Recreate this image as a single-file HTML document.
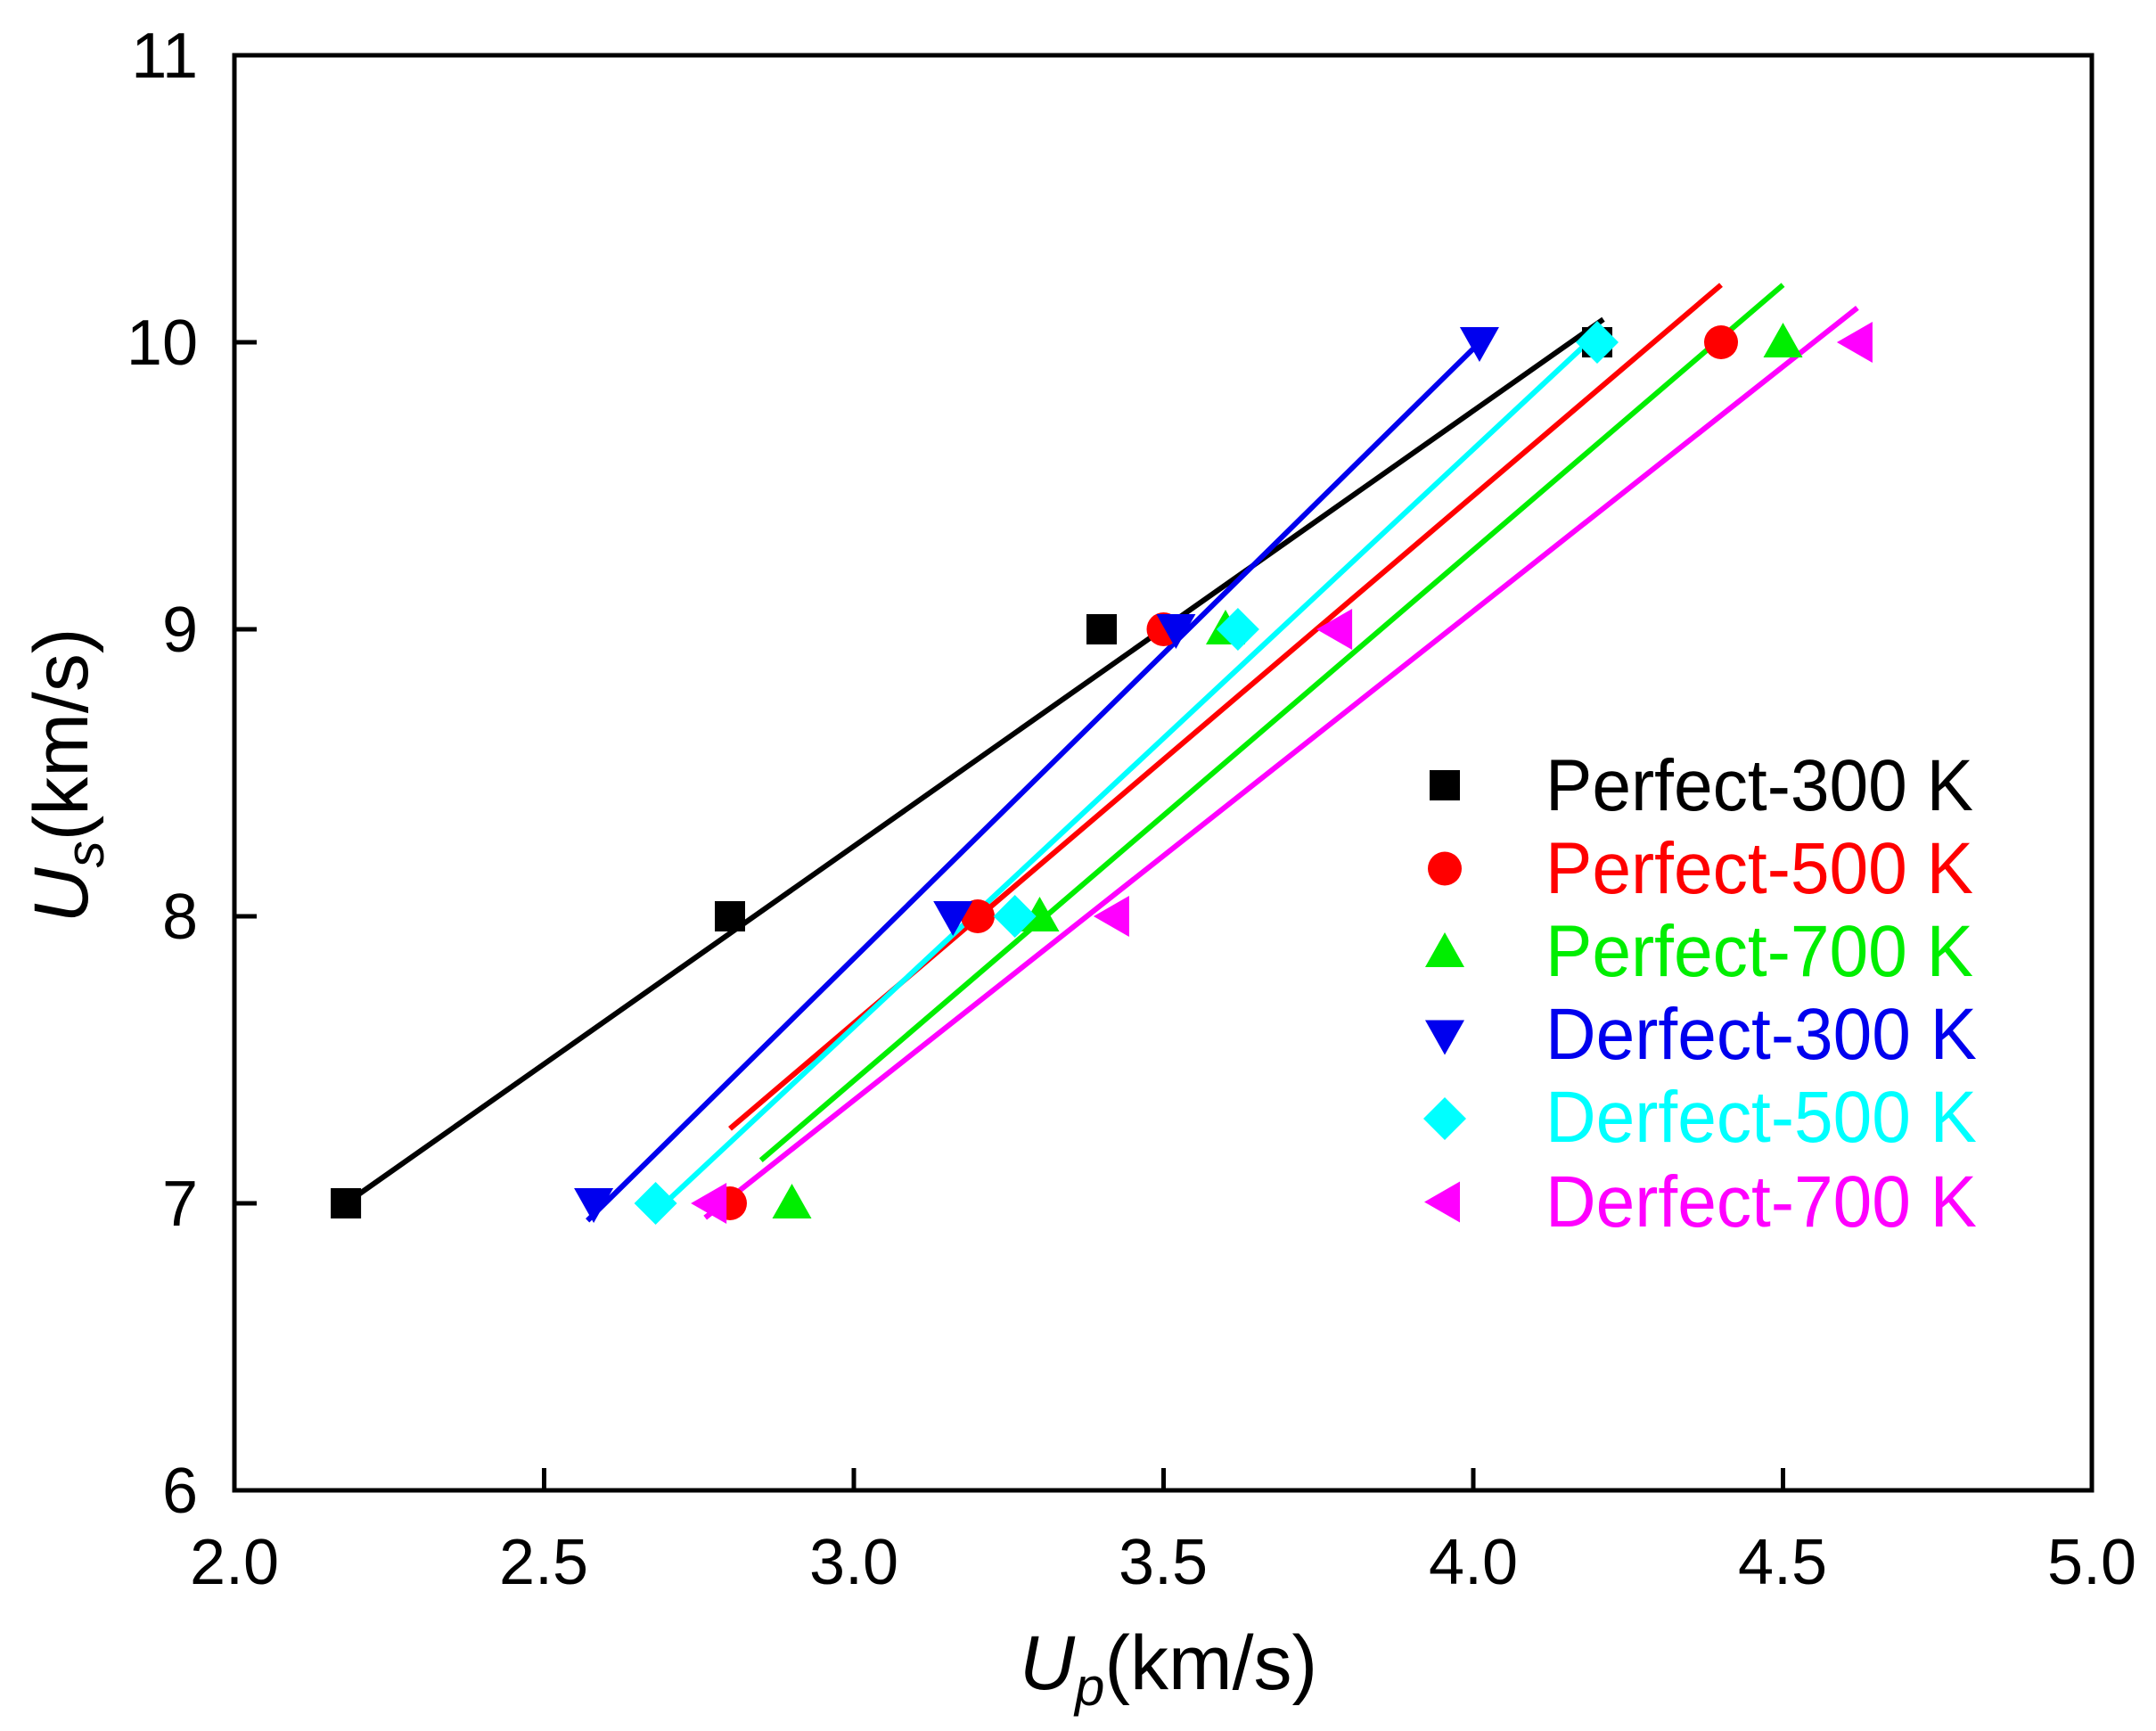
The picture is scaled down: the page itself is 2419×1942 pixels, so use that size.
<!DOCTYPE html>
<html><head><meta charset="utf-8"><style>
html,body{margin:0;padding:0;background:#fff;}
svg{display:block;font-family:"Liberation Sans",Arial,sans-serif;}
</style></head><body>
<svg id="s" width="2419" height="1942" viewBox="0 0 2419 1942" xmlns="http://www.w3.org/2000/svg">
<rect width="2419" height="1942" fill="#fff"/>
<g id="plot"></g>
<rect x="263" y="62" width="2084" height="1610" fill="none" stroke="#000" stroke-width="5"/>
<g id="ticks" stroke="#000" stroke-width="5"></g>
<g font-size="72" fill="#000" text-anchor="middle">
<text x="263" y="1777">2.0</text><text x="610" y="1777">2.5</text><text x="958" y="1777">3.0</text>
<text x="1305" y="1777">3.5</text><text x="1653" y="1777">4.0</text><text x="2000" y="1777">4.5</text><text x="2347" y="1777">5.0</text>
</g>
<g font-size="72" fill="#000" text-anchor="end">
<text x="222" y="1697">6</text><text x="222" y="1375">7</text><text x="222" y="1053">8</text>
<text x="222" y="731">9</text><text x="222" y="409">10</text><text x="222" y="87">11</text>
</g>
<text x="1311" y="1895" font-size="86" text-anchor="middle"><tspan font-style="italic">U</tspan><tspan font-style="italic" font-size="60" dy="18">p</tspan><tspan dy="-18">(km/s)</tspan></text>
<text transform="translate(98,870) rotate(-90)" font-size="86" text-anchor="middle"><tspan font-style="italic">U</tspan><tspan font-style="italic" font-size="60" dy="18">s</tspan><tspan dy="-18">(km/s)</tspan></text>
<g font-size="82">
<text x="1734" y="909" fill="#000" textLength="480" lengthAdjust="spacingAndGlyphs">Perfect-300 K</text>
<text x="1734" y="1002" fill="#ff0000" textLength="480" lengthAdjust="spacingAndGlyphs">Perfect-500 K</text>
<text x="1734" y="1095" fill="#00ee00" textLength="480" lengthAdjust="spacingAndGlyphs">Perfect-700 K</text>
<text x="1734" y="1188" fill="#0000ee" textLength="484" lengthAdjust="spacingAndGlyphs">Derfect-300 K</text>
<text x="1734" y="1281" fill="#00ffff" textLength="484" lengthAdjust="spacingAndGlyphs">Derfect-500 K</text>
<text x="1734" y="1376" fill="#ff00ff" textLength="484" lengthAdjust="spacingAndGlyphs">Derfect-700 K</text>
</g>
<g id="leg"></g>
</svg>
<script>
var X=function(v){return 263+(v-2)*695;},Y=function(v){return 1672-(v-6)*322;};
var ns="http://www.w3.org/2000/svg";
function el(p,t,a){var e=document.createElementNS(ns,t);for(var k in a)e.setAttribute(k,a[k]);p.appendChild(e);return e;}
var tk=document.getElementById("ticks");
for(var i=1;i<6;i++){var x=X(2+i*0.5);el(tk,"line",{x1:x,y1:1672,x2:x,y2:1647});}
for(var j=1;j<5;j++){var y=Y(6+j);el(tk,"line",{x1:263,y1:y,x2:288,y2:y});}
var S=[
 ["#000","sq",[[2.18,7],[2.8,8],[3.4,9],[4.2,10]],[2.18,7,4.21,10.08]],
 ["#ff0000","ci",[[2.8,7],[3.2,8],[3.5,9],[4.4,10]],[2.8,7.26,4.4,10.2]],
 ["#00ee00","up",[[2.9,7],[3.3,8],[3.6,9],[4.5,10]],[2.85,7.15,4.5,10.2]],
 ["#0000ee","dn",[[2.58,7],[3.16,8],[3.52,9],[4.01,10]],[2.57,6.94,4.02,10.02]],
 ["#00ffff","di",[[2.68,7],[3.26,8],[3.62,9],[4.2,10]],[2.67,6.95,4.21,10.05]],
 ["#ff00ff","lt",[[2.77,7],[3.42,8],[3.78,9],[4.62,10]],[2.76,6.95,4.62,10.12]]];
function mk(g,c,t,x,y){var r=17;
 if(t=="sq")el(g,"rect",{x:x-r,y:y-r,width:2*r,height:2*r,fill:c});
 else if(t=="ci")el(g,"circle",{cx:x,cy:y,r:r+2,fill:c});
 else if(t=="up")el(g,"polygon",{points:(x)+","+(y-r-5)+" "+(x+r+5)+","+(y+r)+" "+(x-r-5)+","+(y+r),fill:c});
 else if(t=="dn")el(g,"polygon",{points:(x)+","+(y+r+5)+" "+(x+r+5)+","+(y-r)+" "+(x-r-5)+","+(y-r),fill:c});
 else if(t=="di")el(g,"polygon",{points:x+","+(y-r-7)+" "+(x+r+7)+","+y+" "+x+","+(y+r+7)+" "+(x-r-7)+","+y,fill:c});
 else el(g,"polygon",{points:(x-r-6)+","+y+" "+(x+r)+","+(y-r-6)+" "+(x+r)+","+(y+r+6),fill:c});}
var P=document.getElementById("plot"),L=document.getElementById("leg");
S.forEach(function(s,i){var l=s[3];
 el(P,"line",{x1:X(l[0]),y1:Y(l[1]),x2:X(l[2]),y2:Y(l[3]),stroke:s[0],"stroke-width":6});});
S.forEach(function(s,i){s[2].forEach(function(p){mk(P,s[0],s[1],X(p[0]),Y(p[1]));});
 mk(L,s[0],s[1],1621,881+i*93.5);});
</script>
</body></html>
